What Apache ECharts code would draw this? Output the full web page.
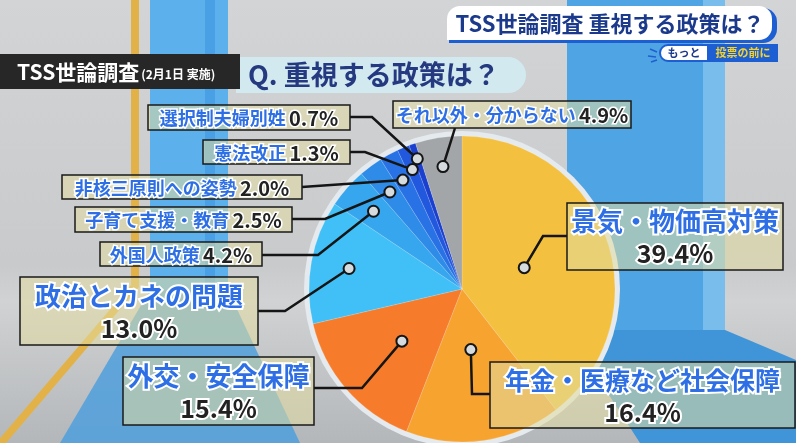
<!DOCTYPE html>
<html><head><meta charset="utf-8">
<script src="https://cdn.jsdelivr.net/npm/echarts@6/dist/echarts.min.js"></script>
<style>html,body{margin:0;padding:0;background:#c8cacc}#c{width:796px;height:443px}</style>
</head><body><div id="c"></div>
<script>
// ---- data ----
const categories = ['景気・物価高対策','年金・医療など社会保障','外交・安全保障','政治とカネの問題','外国人政策','子育て支援・教育','非核三原則への姿勢','憲法改正','選択制夫婦別姓','それ以外・分からない'];
const values = [39.4, 16.4, 15.4, 13.0, 4.2, 2.5, 2.0, 1.3, 0.7, 4.9];
const colors = ['#F4C03F','#F7A330','#F67C2B','#40C0F6','#36A6EE','#2E8CE8','#2872E6','#2158DD','#1B40CF','#A2A6A9'];

// ---- label layout (positions only) ----
const boxes = [[567,203,216,67],[490,362,305,66],[123,357,191,68],[20,277,238,68],[100,242,162,24],[75,207,217,25],[62,175,240,24],[203,140,147,24],[148,105,202,25],[393,101,238,27]];
const bends = [[543,236],[472,394],[362,388],[285,311],[318,255],[325,219],[302,187],[365,152],[372,117],[455,128]];
const ends  = [[567,236],[490,394],[314,388],[258,311],[262,255],[292,219],[302,187],[350,152],[350,117],[455,128]];
const anchorR = [0.43,0.40,0.52,0.75,0.77,0.79,0.81,0.845,0.9,0.81];
const twoLine = [true,true,true,true,false,false,false,false,false,false];

const FONT = '"Noto Sans CJK JP","Noto Sans",sans-serif';
const CX = 462, CY = 289, R = 153;

const chart = echarts.init(document.getElementById('c'), null, {renderer:'canvas'});
chart.setOption({
  animation:false,
  backgroundColor:'transparent',
  series:[
    {type:'pie', center:[CX,CY], radius:R+5, silent:true, z:1, label:{show:false}, labelLine:{show:false},
     data:[{value:1, itemStyle:{color:'#e4eaee'}}]},
    {type:'pie', center:[CX,CY], radius:R, startAngle:90, clockwise:true, z:2,
     label:{show:false}, labelLine:{show:false}, emphasis:{disabled:true}, silent:true,
     itemStyle:{borderColor:'rgba(255,255,255,0.25)', borderWidth:0.6},
     data: categories.map((n,i)=>({name:n, value:values[i], itemStyle:{color:colors[i]}}))}
  ]
});

// anchor points from the library's own pie layout
function anchors(){
  let res = [];
  try{
    const data = chart.getModel().getSeriesByIndex(1).getData();
    for(let i=0;i<values.length;i++){
      const L = data.getItemLayout(i);
      const mid = (L.startAngle+L.endAngle)/2;
      res.push([L.cx + L.r*anchorR[i]*Math.cos(mid), L.cy + L.r*anchorR[i]*Math.sin(mid)]);
    }
    return res;
  }catch(e){
    const tot = values.reduce((a,b)=>a+b,0); let acc=0; res=[];
    for(let i=0;i<values.length;i++){
      const a0 = -Math.PI/2 + acc/tot*2*Math.PI; acc+=values[i];
      const a1 = -Math.PI/2 + acc/tot*2*Math.PI; const mid=(a0+a1)/2;
      res.push([CX+R*anchorR[i]*Math.cos(mid), CY+R*anchorR[i]*Math.sin(mid)]);
    }
    return res;
  }
}

const bg = [
  {type:'rect', shape:{x:0,y:0,width:796,height:443}, z:-10,
   style:{fill:new echarts.graphic.LinearGradient(0,0,0,1,[{offset:0,color:'#d2d4d6'},{offset:0.6,color:'#c8cacc'},{offset:0.68,color:'#d0d2d3'},{offset:1,color:'#b4b7ba'}])}},
  // yellow line
  {type:'polygon', z:-9, shape:{points:[[131,0],[139,0],[139,287],[6,443],[-4,443],[131,285]]}, style:{fill:'#e2b248'}},
  // left blue band
  {type:'rect', z:-9, shape:{x:150,y:0,width:78,height:290}, style:{fill:'#5cb0ec'}},
  {type:'rect', z:-9, shape:{x:205,y:0,width:10,height:290}, style:{fill:'#4aa0e4'}},
  {type:'polygon', z:-9, shape:{points:[[150,290],[228,290],[300,443],[60,443]]}, style:{fill:'#4f9fdc', opacity:0.85}},
  // right blue band
  {type:'rect', z:-9, shape:{x:567,y:0,width:136,height:330}, style:{fill:'#4fa4e4'}},
  {type:'rect', z:-9, shape:{x:703,y:0,width:22,height:330}, style:{fill:'#78bdec'}},
  {type:'polygon', z:-9, shape:{points:[[567,330],[725,330],[796,360],[796,443],[640,443]]}, style:{fill:'#3f95d8'}},
  // header right
  {type:'rect', z:5, shape:{x:449,y:8,width:328,height:35,r:[14,14,14,0]}, style:{fill:'#1d5fd2'}},
  {type:'rect', z:6, shape:{x:447,y:6,width:325,height:34,r:[13,13,13,0]}, style:{fill:'#ffffff'}},
  {type:'text', z:7, style:{text:'TSS世論調査 重視する政策は？', x:610, y:24, align:'center', verticalAlign:'middle', fill:'#1c3a8c', font:'bold 22px '+FONT}},
  {type:'rect', z:6, shape:{x:660,y:45,width:48,height:16,r:[8,0,0,8]}, style:{fill:'#ffffff', stroke:'#1d5fd2', lineWidth:2}},
  {type:'text', z:7, style:{text:'もっと', x:684, y:53, align:'center', verticalAlign:'middle', fill:'#1c3a8c', font:'bold 11px '+FONT}},
  {type:'rect', z:6, shape:{x:708,y:44,width:70,height:18}, style:{fill:'#1d5fd2'}},
  {type:'text', z:7, style:{text:'投票の前に', x:743, y:53, align:'center', verticalAlign:'middle', fill:'#f6d22a', font:'bold 11px '+FONT}},
  {type:'polyline', z:7, shape:{points:[[650,49],[657,52]]}, style:{stroke:'#1d5fd2', lineWidth:1.5}},
  {type:'polyline', z:7, shape:{points:[[648,56],[656,57]]}, style:{stroke:'#1d5fd2', lineWidth:1.5}},
  {type:'polyline', z:7, shape:{points:[[651,62],[657,60]]}, style:{stroke:'#1d5fd2', lineWidth:1.5}},
  // left header
  {type:'rect', z:5, shape:{x:236,y:57,width:290,height:36,r:[0,18,18,0]}, style:{fill:'#d2eaef'}},
  {type:'text', z:7, style:{text:'Q. 重視する政策は？', x:248, y:75, align:'left', verticalAlign:'middle', fill:'#24397f', font:'bold 27px '+FONT}},
  {type:'rect', z:6, shape:{x:0,y:54,width:240,height:35}, style:{fill:'#272727'}},
  {type:'text', z:7, style:{text:'{a|TSS世論調査}{b|(2月1日 実施)}', x:17, y:72, align:'left', verticalAlign:'middle',
     rich:{a:{fill:'#ffffff', font:'bold 21px '+FONT}, b:{fill:'#ffffff', font:'bold 12px '+FONT, padding:[5,0,0,2]}}}}
];

const A = anchors();
const labels = [];
for(let i=0;i<values.length;i++){
  const [bx,by,bw,bh] = boxes[i];
  const pct = values[i].toFixed(1)+'%';
  labels.push({type:'polyline', z:50, shape:{points:[A[i], bends[i], ends[i]]}, style:{stroke:'#151515', lineWidth:2.5, fill:null}});
  labels.push({type:'circle', z:52, shape:{cx:A[i][0], cy:A[i][1], r:5.5}, style:{fill:'#d6dbde', stroke:'#151515', lineWidth:2}});
  labels.push({type:'rect', z:51, shape:{x:bx,y:by,width:bw,height:bh}, style:{fill:'rgba(226,220,160,0.55)', stroke:'#1a1a1a', lineWidth:1.5}});
  if(twoLine[i]){
    const fs = i===1 ? 25 : 26;
    labels.push({type:'text', z:53, style:{
      text:'{n|'+categories[i]+'}\n{p|'+pct+'}', x:bx+bw/2, y:by+bh/2+1, align:'center', verticalAlign:'middle',
      rich:{
        n:{fill:'#2e6fe6', stroke:'#ffffff', lineWidth:4, fontSize:fs, fontWeight:'bold', fontFamily:FONT, lineHeight:32},
        p:{fill:'#222222', stroke:'#ffffff', lineWidth:4, fontSize:25, fontWeight:'bold', fontFamily:FONT, lineHeight:32}
      }}});
  } else {
    labels.push({type:'text', z:53, style:{
      text:'{n|'+categories[i]+'} {p|'+pct+'}', x:bx+bw/2, y:by+bh/2+1, align:'center', verticalAlign:'middle',
      rich:{
        n:{fill:'#2e6fe6', stroke:'#ffffff', lineWidth:3, fontSize:18, fontWeight:'bold', fontFamily:FONT},
        p:{fill:'#222222', stroke:'#ffffff', lineWidth:3, fontSize:20, fontWeight:'bold', fontFamily:FONT}
      }}});
  }
}

chart.setOption({graphic: bg.concat(labels)});
</script>
</body></html>
